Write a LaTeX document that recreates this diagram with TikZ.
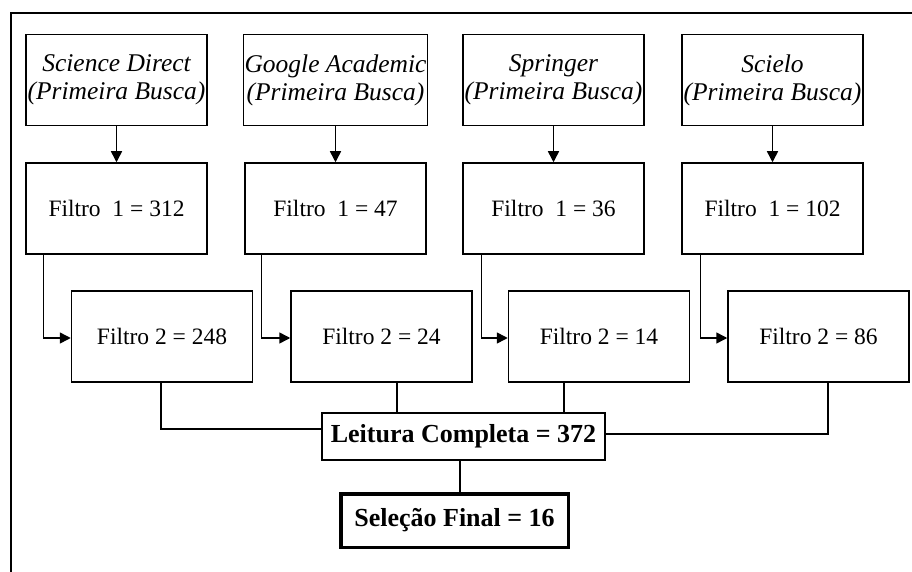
\documentclass[tikz,border=0pt]{standalone}
\usepackage{fontspec}
\setmainfont{Liberation Serif}
\usetikzlibrary{arrows.meta}

\begin{document}
\begin{tikzpicture}[x=1pt,y=-1pt,>={Triangle[length=11pt,width=11pt]}, line join=miter,
	caixa/.style={draw,line width=1.5pt,minimum width=181pt,minimum height=91pt,inner sep=1pt,align=center,font=\fontsize{23.5}{27}\selectfont},
	fonte/.style={caixa,font=\fontsize{25.5}{28}\selectfont\itshape},
	final/.style={draw,align=center,inner sep=1pt,font=\fontsize{26}{30}\selectfont\bfseries},
	liga/.style={line width=1.5pt}]
		\useasboundingbox (0,0) rectangle (912,572);
		% moldura
		\draw[line width=2pt] (11,572) -- (11,13) -- (912,13);
		% bases de busca
		\node[fonte] (sd) at (116.5,80) {Science Direct\\(Primeira Busca)};
		\node[fonte] (ga) at (335.5,80) {Google Academic\\(Primeira Busca)};
		\node[fonte] (sp) at (553.5,80) {Springer\\(Primeira Busca)};
		\node[fonte] (sc) at (772.5,80) {Scielo\\(Primeira Busca)};
		% primeiro filtro
		\node[caixa] (fa1) at (116.5,208.5) {Filtro~ 1 = 312};
		\node[caixa] (fa2) at (335.5,208.5) {Filtro~ 1 = 47};
		\node[caixa] (fa3) at (553.5,208.5) {Filtro~ 1 = 36};
		\node[caixa] (fa4) at (772.5,208.5) {Filtro~ 1 = 102};
		% segundo filtro
		\node[caixa] (fb1) at (162,336.5) {Filtro 2 = 248};
		\node[caixa] (fb2) at (381.5,336.5) {Filtro 2 = 24};
		\node[caixa] (fb3) at (599,336.5) {Filtro 2 = 14};
		\node[caixa] (fb4) at (818.5,336.5) {Filtro 2 = 86};
		% leitura e selecao
		\node[final,line width=1.5pt,minimum width=283pt,minimum height=47pt] (lc) at (463.5,436.5) {Leitura Completa = 372};
		\node[final,line width=3.5pt,minimum width=227.5pt,minimum height=53.5pt] (sf) at (454.5,520.5) {Seleção Final = 16};

		\draw[liga,->] (sd) -- (fa1);
		\draw[liga,->] (ga) -- (fa2);
		\draw[liga,->] (sp) -- (fa3);
		\draw[liga,->] (sc) -- (fa4);

		\draw[liga,->] ([xshift=18pt]fa1.south west) |- ([yshift=-1.5pt]fb1.west);
		\draw[liga,->] ([xshift=17pt]fa2.south west) |- ([yshift=-1.5pt]fb2.west);
		\draw[liga,->] ([xshift=19pt]fa3.south west) |- ([yshift=-1.5pt]fb3.west);
		\draw[liga,->] ([xshift=19pt]fa4.south west) |- ([yshift=-1.5pt]fb4.west);

		\draw[liga] ([xshift=-1pt]fb1.south) |- ([yshift=7.5pt]lc.west);
		\draw[liga] ([xshift=15.5pt]fb2.south) -- ([xshift=15.5pt]fb2.south |- lc.north);
		\draw[liga] ([xshift=-35pt]fb3.south) -- ([xshift=-35pt]fb3.south |- lc.north);
		\draw[liga] ([xshift=9.5pt]fb4.south) |- ([yshift=2.5pt]lc.east);
		\draw[liga] ([xshift=-3.5pt]lc.south) -- ([xshift=-3.5pt]lc.south |- sf.north);
\end{tikzpicture}
\end{document}
